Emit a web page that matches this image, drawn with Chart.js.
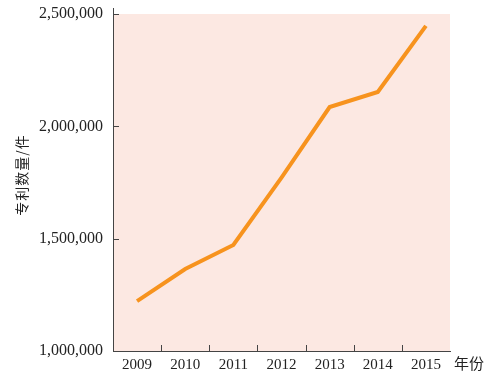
<!DOCTYPE html>
<html>
<head>
<meta charset="utf-8">
<script src="https://cdn.jsdelivr.net/npm/chart.js@4.4.0/dist/chart.umd.min.js"></script>
<style>
  html, body { margin: 0; padding: 0; background: #fff; }
  #wrap { width: 491px; height: 378px; }
</style>
</head>
<body>
<div id="wrap"><canvas id="grafico"></canvas></div>
<script>
// --- Datos ---
const anios = ['2009', '2010', '2011', '2012', '2013', '2014', '2015'];
const patentes = [1222000, 1365000, 1472000, 1772000, 2086000, 2153000, 2447000];
const ticksY = [1000000, 1500000, 2000000, 2500000];
const tituloY = '专利数量/件';
const tituloX = '年份';

const fuenteSerif = '"Liberation Serif", "DejaVu Serif", serif';
const colorEje = '#444';

// fondo rosado + marcas hacia adentro + titulos
const pluginDecoracion = {
    id: 'decoracion',
    beforeDraw(chart) {
        const { ctx, chartArea } = chart;
        ctx.save();
        ctx.fillStyle = '#fce8e2';
        ctx.fillRect(chartArea.left, chartArea.top, chartArea.right - chartArea.left, chartArea.bottom - chartArea.top);
        ctx.restore();
    },
    afterDraw(chart) {
        const { ctx, chartArea, scales } = chart;
        ctx.save();
        ctx.strokeStyle = colorEje;
        ctx.lineWidth = 1;
        ctx.beginPath();
        // eje y un poco mas alto que el area
        ctx.moveTo(chartArea.left + 0.5, chartArea.top - 6);
        ctx.lineTo(chartArea.left + 0.5, chartArea.top);
        ticksY.forEach(v => {
            const y = Math.round(scales.y.getPixelForValue(v)) + 0.5;
            ctx.moveTo(chartArea.left, y);
            ctx.lineTo(chartArea.left + 6, y);
        });
        for (let i = 0; i < anios.length - 1; i++) {
            const x = Math.round((scales.x.getPixelForValue(i) + scales.x.getPixelForValue(i + 1)) / 2) + 0.5;
            ctx.moveTo(x, chartArea.bottom);
            ctx.lineTo(x, chartArea.bottom - 6);
        }
        ctx.stroke();

        ctx.fillStyle = '#222';
        ctx.font = '15px "Noto Sans CJK SC"';
        ctx.textBaseline = 'middle';
        ctx.textAlign = 'left';
        ctx.fillText(tituloX, chartArea.right + 4, chartArea.bottom + 12);

        // titulo vertical del eje y
        ctx.translate(22, 175);
        ctx.rotate(-Math.PI / 2);
        ctx.font = '14px "Noto Sans CJK SC"';
        ctx.textAlign = 'center';
        ctx.letterSpacing = '1px';
        ctx.fillText(tituloY, 0, 0);
        ctx.restore();
    }
};

const ctx = document.getElementById('grafico').getContext('2d');
new Chart(ctx, {
    type: 'line',
    data: {
        labels: anios,
        datasets: [{
            data: patentes,
            borderColor: '#f7931e',
            borderWidth: 4,
            pointRadius: 0,
            tension: 0,
            fill: false
        }]
    },
    options: {
        responsive: true,
        maintainAspectRatio: false,
        animation: false,
        layout: { padding: { top: 14, right: 41, bottom: 0, left: 0 } },
        plugins: { legend: { display: false }, tooltip: { enabled: false } },
        scales: {
            x: {
                type: 'category',
                offset: true,
                grid: { display: false, drawTicks: false },
                border: { display: true, color: colorEje, width: 1 },
                ticks: { color: '#222', padding: 5, font: { family: fuenteSerif, size: 15 } },
                afterFit: s => { s.height = 27; s.paddingLeft = 0; s.paddingRight = 0; }
            },
            y: {
                min: 1000000,
                max: 2500000,
                afterBuildTicks: s => { s.ticks = ticksY.map(v => ({ value: v })); },
                grid: { display: false, drawTicks: false },
                border: { display: true, color: colorEje, width: 1 },
                ticks: {
                    color: '#222',
                    padding: 10,
                    font: { family: fuenteSerif, size: 16 },
                    callback: v => v.toLocaleString('en-US')
                },
                afterFit: s => { s.width = 113; s.paddingTop = 0; s.paddingBottom = 0; }
            }
        }
    },
    plugins: [pluginDecoracion]
});
</script>
</body>
</html>
